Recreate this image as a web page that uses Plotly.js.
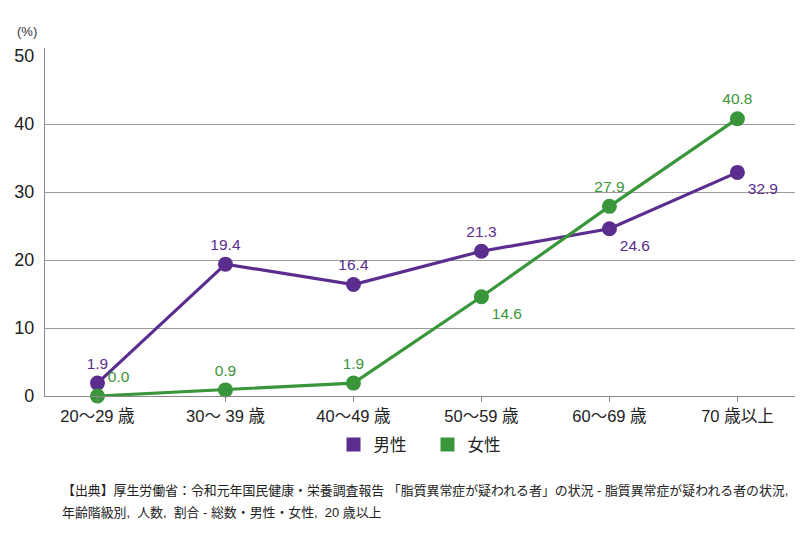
<!DOCTYPE html>
<html><head><meta charset="utf-8">
<script src="https://cdn.plot.ly/plotly-3.0.1.min.js"></script>
<style>html,body{margin:0;padding:0;background:#fff;}#chart{width:800px;height:550px;}</style>
</head><body><div id="chart"></div>
<script>
const categories = ["20～29 歳", "30～ 39 歳", "40～49 歳", "50～59 歳", "60～69 歳", "70 歳以上"];
const menValues = [1.9, 19.4, 16.4, 21.3, 24.6, 32.9];
const womenValues = [0.0, 0.9, 1.9, 14.6, 27.9, 40.8];
const seriesNames = ["男性", "女性"];
const yTickVals = [0, 10, 20, 30, 40, 50];
const gridVals = [10, 20, 30, 40];
const sourceLines = [
  "【出典】厚生労働省：令和元年国民健康・栄養調査報告 「脂質異常症が疑われる者」の状況 - 脂質異常症が疑われる者の状況,",
  "年齢階級別,  人数,  割合 - 総数・男性・女性,  20 歳以上"
];

const purple = "#5b2d8e";
const green = "#3a963a";
const FONT = "Liberation Sans, Arial, Noto Sans CJK JP, sans-serif";

const fmt = v => v.toFixed(1);

const menPos = ["top center","top center","top center","top center","bottom right","bottom right"];
const womenPos = ["top right","top center","top center","bottom right","top center","top center"];

const traces = [
  {x: categories, y: menValues, type: "scatter", mode: "lines+markers+text",
   line: {color: purple, width: 3.2}, marker: {color: purple, size: 15},
   text: menValues.map(fmt), textposition: menPos,
   textfont: {color: purple, size: 15.5, family: FONT},
   showlegend: false, cliponaxis: false, hoverinfo: "skip"},
  {x: categories, y: womenValues, type: "scatter", mode: "lines+markers+text",
   line: {color: green, width: 3.2}, marker: {color: green, size: 15},
   text: womenValues.map(fmt), textposition: womenPos,
   textfont: {color: green, size: 15.5, family: FONT},
   showlegend: false, cliponaxis: false, hoverinfo: "skip"},
  {x: [null], y: [null], yaxis: "y2", type: "scatter", mode: "markers", name: seriesNames[0],
   marker: {color: purple, symbol: "square", size: 14}},
  {x: [null], y: [null], yaxis: "y2", type: "scatter", mode: "markers", name: seriesNames[1],
   marker: {color: green, symbol: "square", size: 14}}
];

const layout = {
  width: 800, height: 550,
  margin: {l: 45, r: 5, t: 48, b: 154},
  paper_bgcolor: "#fff", plot_bgcolor: "#fff",
  font: {family: FONT, size: 14, color: "#222"},
  xaxis: {type: "category", range: [-0.41, 5.45], showgrid: false, zeroline: false,
    showline: true, linecolor: "#8a8a8a", linewidth: 1.2,
    ticks: "outside", ticklen: 5, tickcolor: "#8a8a8a",
    tickfont: {size: 16.5, family: FONT, color: "#222"}, fixedrange: true},
  yaxis: {range: [0, 51.2], tickvals: gridVals, showticklabels: false,
    showgrid: true, gridcolor: "#9a9a9a", gridwidth: 1, zeroline: false,
    showline: false, ticks: "", fixedrange: true},
  yaxis2: {range: [0, 51.2], overlaying: "y", side: "left", anchor: "x",
    tickvals: yTickVals, showgrid: false, zeroline: false,
    showline: true, linecolor: "#8a8a8a", linewidth: 1.2, ticks: "",
    ticklabelstandoff: 6,
    tickfont: {size: 18, family: FONT, color: "#222"}, fixedrange: true},
  legend: {orientation: "h", x: 0.51, xanchor: "center", y: -0.09, yanchor: "top",
    entrywidth: 49, entrywidthmode: "pixels",
    font: {size: 16.5, family: FONT, color: "#222"}, itemclick: false},
  annotations: [
    {text: "(%)", xref: "paper", yref: "paper", x: -0.04, y: 1.02, xanchor: "left", yanchor: "bottom",
     showarrow: false, font: {size: 13, family: FONT, color: "#333"}},
    {text: sourceLines[0],
     xref: "paper", yref: "paper", x: 0.02, y: -0.272, xanchor: "left", yanchor: "middle", align: "left",
     showarrow: false, font: {size: 12.9, family: FONT, color: "#222"}},
    {text: sourceLines[1],
     xref: "paper", yref: "paper", x: 0.02, y: -0.335, xanchor: "left", yanchor: "middle", align: "left",
     showarrow: false, font: {size: 12.9, family: FONT, color: "#222"}}
  ]
};

Plotly.newPlot("chart", traces, layout, {displayModeBar: false, staticPlot: true});
</script></body></html>
